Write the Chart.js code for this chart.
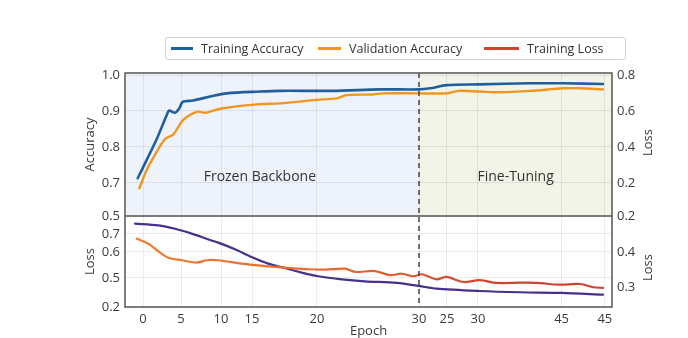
<!DOCTYPE html>
<html>
<head>
<meta charset="utf-8">
<script src="https://cdn.jsdelivr.net/npm/chart.js@4.4.1/dist/chart.umd.min.js"></script>
<style>
  html, body { margin: 0; padding: 0; background: #fff; }
  #wrap { position: relative; width: 688px; height: 338px; }
  #legend {
    position: absolute; left: 165px; top: 37px; width: 461px; height: 23px;
    border: 1px solid #d2d2d2; border-radius: 3px; box-sizing: border-box;
    font: 12.5px "Open Sans", sans-serif; color: #333; background: #fff;
  }
  .item { position: absolute; top: 0; height: 21px; line-height: 21px; white-space: nowrap; }
  .item i { display: inline-block; height: 3px; vertical-align: middle; margin-right: 8px; position: relative; top: -1px; }
</style>
</head>
<body>
<div id="wrap">
  <canvas id="c" width="688" height="338"></canvas>
  <div id="legend"></div>
</div>
<script>
/* ---------- data ---------- */
// x positions on the (oddly labelled) epoch axis
const epochTicks  = [0, 4.13, 8.48, 11.85, 18.9, 30, 33.04, 36.4, 45.5, 50.2];
const epochLabels = ["0", "5", "10", "15", "20", "30", "25", "30", "45", "45"];

// top panel: accuracy
const accTicks      = [1.0, 0.9, 0.8, 0.7, 0.608];
const accLabels     = ["1.0", "0.9", "0.8", "0.7", "0.5"];
const lossTopLabels = ["0.8", "0.6", "0.4", "0.2", "0.2"];

// bottom panel: loss
const lossTicks       = [0.7, 0.6, 0.456, 0.294];
const lossLabels      = ["0.7", "0.6", "0.5", "0.2"];
const lossRightTicks  = [0.7, 0.6, 0.456, 0.4056];
const lossRightLabels = ["", "0.4", "", "0.3"];

const trainAccEpoch = [-0.58, 0.4, 1.49, 2.58, 2.83, 3.48, 3.91, 4.32, 5.43, 7.28, 9.1, 12.7, 14.9, 20.6, 25.8, 30, 31.2, 33, 36.6, 42.1, 45.7, 50];
const trainAcc      = [0.713, 0.764, 0.822, 0.889, 0.901, 0.895, 0.906, 0.925, 0.929, 0.940, 0.949, 0.954, 0.956, 0.956, 0.960, 0.960, 0.963, 0.972, 0.974, 0.977, 0.977, 0.975];

const valAccEpoch = [-0.4, 0.4, 1.3, 2.39, 3.29, 4.38, 5.92, 6.74, 8.53, 12.7, 14.9, 18.9, 21.05, 22.1, 25, 26.1, 30, 33, 34.3, 36.6, 38.8, 42.1, 45.7, 47.5, 50];
const valAcc      = [0.685, 0.736, 0.778, 0.822, 0.835, 0.875, 0.898, 0.895, 0.907, 0.919, 0.921, 0.931, 0.935, 0.944, 0.946, 0.949, 0.949, 0.949, 0.956, 0.954, 0.952, 0.956, 0.963, 0.963, 0.960];

const trainLossEpoch = [-0.68, 0.58, 1.66, 2.75, 4.21, 5.84, 6.92, 8.18, 10.7, 13.3, 15.4, 17.97, 19.8, 21.96, 23.04, 25.2, 26.85, 28.1, 29.4, 30.3, 31.9, 33, 34.8, 36.6, 38.4, 41, 42.8, 45.3, 47.5, 48.95, 50];
const trainLoss      = [0.674, 0.646, 0.604, 0.568, 0.554, 0.541, 0.554, 0.554, 0.535, 0.521, 0.513, 0.504, 0.502, 0.507, 0.489, 0.494, 0.471, 0.479, 0.465, 0.476, 0.448, 0.461, 0.433, 0.443, 0.428, 0.429, 0.428, 0.418, 0.422, 0.404, 0.400];

const valLossEpoch = [-0.87, 1.66, 3.48, 5.29, 7.28, 8.18, 10, 11.8, 13.6, 15.4, 17.25, 19.05, 21.6, 24.1, 27.6, 30, 31.9, 36.6, 41, 45.5, 50];
const valLoss      = [0.758, 0.748, 0.729, 0.702, 0.667, 0.652, 0.615, 0.572, 0.535, 0.511, 0.485, 0.465, 0.448, 0.437, 0.428, 0.411, 0.396, 0.383, 0.376, 0.372, 0.363];

const phaseSplit   = 30;
const phaseNames   = ["Frozen Backbone", "Fine-Tuning"];
const phaseCenters = [12.7, 40.5];

/* ---------- style ---------- */
const C = {
  blue: "#1f5f9e",
  orange: "#f0961f",
  red: "#cf4332",
  redStart: "#f27c2c",
  purple: "#46308c",
  ink: "#3a3a3a",
  grid: "rgba(0,0,0,0.075)",
  frame: "#555",
  frozen: "#eef3fb",
  fine: "#f2f4e8",
};
const FONT = "'Open Sans', 'Noto Sans', sans-serif";
const tickFont = { family: FONT, size: 13 };

Chart.defaults.font.family = FONT;
Chart.defaults.color = C.ink;

const pts = (xs, ys) => xs.map((x, i) => ({ x, y: ys[i] }));

function lossGradient(ctx) {
  const a = ctx.chart.chartArea;
  if (!a) return C.red;
  const g = ctx.chart.ctx.createLinearGradient(a.left, 0, a.right, 0);
  g.addColorStop(0, C.redStart);
  g.addColorStop(0.45, "#e8672f");
  g.addColorStop(0.75, C.red);
  g.addColorStop(1, C.red);
  return g;
}

function fixedTicks(values, labels) {
  return {
    afterBuildTicks: s => { s.ticks = values.map(v => ({ value: v })); },
    ticks: { callback: (v, i) => labels[i], autoSkip: false, font: tickFont, color: C.ink, padding: 5 },
  };
}

/* ---------- panels, frame, phase labels ---------- */
const panelPlugin = {
  id: "panels",
  beforeDraw(chart) {
    const { ctx, chartArea: a, scales } = chart;
    const top = scales.y;
    const xs = scales.x.getPixelForValue(phaseSplit);
    ctx.save();
    ctx.fillStyle = C.frozen;
    ctx.fillRect(a.left, top.top, xs - a.left, top.bottom - top.top);
    ctx.fillStyle = C.fine;
    ctx.fillRect(xs, top.top, a.right - xs, top.bottom - top.top);
    ctx.restore();
  },
  afterDraw(chart) {
    const { ctx, chartArea: a, scales } = chart;
    const top = scales.y;
    const xs = scales.x.getPixelForValue(phaseSplit);
    ctx.save();
    // phase split
    ctx.strokeStyle = "#444";
    ctx.lineWidth = 1.5;
    ctx.setLineDash([5, 4]);
    ctx.beginPath();
    ctx.moveTo(xs, a.top);
    ctx.lineTo(xs, a.bottom);
    ctx.stroke();
    ctx.setLineDash([]);
    // frame + panel separator
    ctx.strokeStyle = C.frame;
    ctx.lineWidth = 1.5;
    ctx.strokeRect(a.left, a.top, a.right - a.left, a.bottom - a.top);
    ctx.beginPath();
    ctx.moveTo(a.left, top.bottom);
    ctx.lineTo(a.right, top.bottom);
    ctx.stroke();
    // phase names
    ctx.fillStyle = "#333";
    ctx.font = "14px " + FONT;
    ctx.textAlign = "center";
    ctx.textBaseline = "middle";
    const ly = top.getPixelForValue(0.717);
    phaseNames.forEach((t, i) => ctx.fillText(t, scales.x.getPixelForValue(phaseCenters[i]), ly));
    // right axis titles (read bottom-to-top)
    ctx.font = "13px " + FONT;
    ctx.fillStyle = C.ink;
    [scales.yr, scales.ybr].forEach((s, i) => {
      ctx.save();
      ctx.translate(648, (s.top + s.bottom) / 2 + (i ? 6 : -2));
      ctx.rotate(-Math.PI / 2);
      ctx.fillText("Loss", 0, 0);
      ctx.restore();
    });
    ctx.restore();
  },
};

/* ---------- chart ---------- */
new Chart(document.getElementById("c"), {
  type: "line",
  data: {
    datasets: [
      { label: "Training Accuracy", data: pts(trainAccEpoch, trainAcc), yAxisID: "y", borderColor: C.blue, borderWidth: 2.6 },
      { label: "Validation Accuracy", data: pts(valAccEpoch, valAcc), yAxisID: "y", borderColor: C.orange, borderWidth: 2.4 },
      { label: "Training Loss", data: pts(trainLossEpoch, trainLoss), yAxisID: "yb", borderColor: lossGradient, borderWidth: 2.2 },
      { label: "Validation Loss", data: pts(valLossEpoch, valLoss), yAxisID: "yb", borderColor: C.purple, borderWidth: 2.2 },
    ],
  },
  options: {
    responsive: false,
    animation: false,
    elements: { point: { radius: 0 }, line: { tension: 0.3, borderCapStyle: "round" } },
    layout: { padding: { top: 73, left: 0, right: 0, bottom: 0 } },
    plugins: { legend: { display: false }, tooltip: { enabled: false } },
    scales: {
      x: {
        type: "linear", min: -1.96, max: 50.98, bounds: "data",
        ...fixedTicks(epochTicks, epochLabels),
        ticks: { callback: (v, i) => epochLabels[i], autoSkip: false, maxRotation: 0, font: tickFont, color: C.ink, padding: 4 },
        grid: { color: C.grid, drawTicks: false },
        border: { display: false },
        title: { display: true, text: "Epoch", font: { family: FONT, size: 13, lineHeight: 1 }, color: C.ink, padding: 0 },
        afterFit: s => { s.height = 31; },
      },
      yb: {
        type: "linear", position: "left", stack: "L", stackWeight: 91, min: 0.294, max: 0.8, bounds: "data",
        ...fixedTicks(lossTicks, lossLabels),
        grid: { color: C.grid, drawTicks: false },
        border: { display: false },
        title: { display: true, text: "Loss", font: { family: FONT, size: 13 }, color: C.ink, padding: { top: 82 } },
        afterFit: s => { s.width = 125; },
      },
      y: {
        type: "linear", position: "left", stack: "L", stackWeight: 143, min: 0.608, max: 1.0056, bounds: "data",
        ...fixedTicks(accTicks, accLabels),
        grid: { color: C.grid, drawTicks: false },
        border: { display: false },
        title: { display: true, text: "Accuracy", font: { family: FONT, size: 13 }, color: C.ink, padding: { top: 82 } },
        afterFit: s => { s.width = 125; },
      },
      yr: {
        type: "linear", position: "right", stack: "R", stackWeight: 143, min: 0.608, max: 1.0056, bounds: "data",
        ...fixedTicks(accTicks, lossTopLabels),
        grid: { display: false, drawTicks: false },
        border: { display: false },
        afterFit: s => { s.width = 76; },
      },
      ybr: {
        type: "linear", position: "right", stack: "R", stackWeight: 91, min: 0.294, max: 0.8, bounds: "data",
        ...fixedTicks(lossRightTicks, lossRightLabels),
        grid: { display: false, drawTicks: false },
        border: { display: false },
        afterFit: s => { s.width = 76; },
      },
    },
  },
  plugins: [panelPlugin],
});

/* ---------- legend (three series, boxed) ---------- */
const legendNames  = ["Training Accuracy", "Validation Accuracy", "Training Loss"];
const legendColors = [C.blue, C.orange, C.red];
const legendLeft   = [5, 152, 318];
const legendLine   = [22, 23, 35];
const legend = document.getElementById("legend");
legendNames.forEach((name, i) => {
  const el = document.createElement("span");
  el.className = "item";
  el.style.left = legendLeft[i] + "px";
  el.innerHTML = `<i style="width:${legendLine[i]}px;background:${legendColors[i]}"></i>${name}`;
  legend.appendChild(el);
});
</script>
</body>
</html>
